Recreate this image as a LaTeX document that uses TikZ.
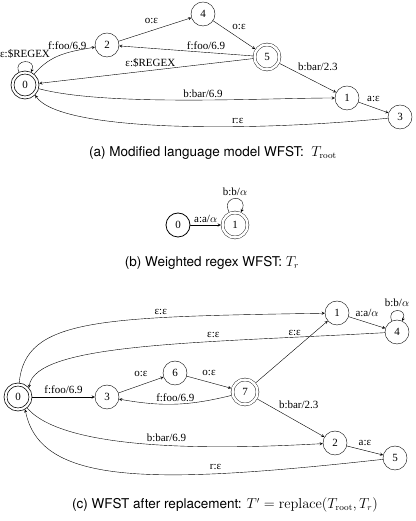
\documentclass[tikz,border=0pt]{standalone}
\usepackage[no-math]{fontspec}
\setmainfont{Liberation Serif}
\newfontfamily\capfont{TeX Gyre Heros}
\begin{document}
\begin{tikzpicture}[x=1pt, y=1pt, font=\fontsize{11}{13}\selectfont, line join=round, line cap=round, >=stealth,
  state/.style={circle, draw, minimum size=24pt, inner sep=0pt},
  final/.style={state, double, double distance=2.5pt, minimum size=25pt, outer sep=1.7pt},
  start/.style={state, line width=0.8pt},
  startfinal/.style={final, line width=0.7pt, double distance=2.2pt, outer sep=1.8pt},
  selfloop/.style={out=115, in=65, min distance=#1},
  caption/.style={font=\capfont\fontsize{13.5}{16}\selectfont}]
\useasboundingbox (0,0) rectangle (415,521);
% (a) language model
\node[startfinal] (a0) at (25,436) {0};
\foreach \k/\x/\y in {2/107/476, 4/203/507, 1/347/423, 3/400/404}
  \node[state] (a\k) at (\x,\y) {\k};
\node[final] (a5) at (267,464) {5};
\draw[->] (a0) to[selfloop=15pt] node[above]{ε:\$REGEX} (a0);
\draw[->] (a0) to[out=50,in=190] node[pos=.6, above]{f:foo/6.9} (a2);
\draw[->] (a2) -- node[pos=.45, above=3pt]{o:ε} (a4);
\draw[->] (a4) -- node[pos=.4, above right=-1pt]{o:ε} (a5);
\draw[->] (a5) -- node[pos=.35, above=-1pt]{f:foo/6.9} (a2);
\draw[->] (a5) -- node[pos=.48, above=0pt]{ε:\$REGEX} (a0);
\draw[->] (a5) -- node[pos=.3, above right=-2pt]{b:bar/2.3} (a1);
\draw[->] (a0) to[out=-15,in=180,looseness=.6] node[pos=.55, above=-1pt]{b:bar/6.9} (a1);
\draw[->] (a1) -- node[above=2pt]{a:ε} (a3);
\draw[->] (a3) .. controls (250,389) and (60,389) .. node[pos=.34, above=-1pt]{r:ε} (a0.-45);
\node[caption] (capa) at (213,368) {(a) Modified language model WFST: \ $T_{\mathrm{root}}$};
% (b) regex
\node[start] (b0) at (178,296) {0};
\node[final] (b1) at (235,296) {1};
\draw[->] (b0) -- node[above=-1pt]{a:a/$\alpha$} (b1);
\draw[->] (b1) to[selfloop=20pt] node[above=-1pt]{b:b/$\alpha$} (b1);
\node[caption] (capb) at (212,258) {(b) Weighted regex WFST: $T_r$};
% (c) after replacement
\node[startfinal] (c0) at (18,124) {0};
\foreach \k/\x/\y in {3/107/124, 6/175/148, 1/337/208, 4/397/189, 2/335/78, 5/395/63}
  \node[state] (c\k) at (\x,\y) {\k};
\node[final] (c7) at (245,129) {7};
\draw[->] (c0.85) .. controls (25,203) and (100,204) .. node[pos=.7, above=-1pt]{ε:ε} (c1);
\draw[->] (c4) .. controls (200,178) and (35,178) .. node[pos=.33, above=0pt]{ε:ε} (c0.40);
\draw[->] (c0) -- node[above]{f:foo/6.9} (c3);
\draw[->] (c3) -- node[above=5pt]{o:ε} (c6);
\draw[->] (c6) -- node[above=3pt]{o:ε} (c7);
\draw[->] (c7) to[bend left=12] node[above=-1pt]{f:foo/6.9} (c3);
\draw[->] (c7) -- node[pos=.8, left=9pt]{ε:ε} (c1);
\draw[->] (c1) -- node[above=2pt]{a:a/$\alpha$} (c4);
\draw[->] (c4) to[selfloop=15pt] node[above=1pt]{b:b/$\alpha$} (c4);
\draw[->] (c7) -- node[pos=.3, above right=-2pt]{b:bar/2.3} (c2);
\draw[->] (c0) to[out=-50,in=183,looseness=.55] node[pos=.5, above=0pt]{b:bar/6.9} (c2);
\draw[->] (c2) -- node[above=1pt]{a:ε} (c5);
\draw[->] (c5) .. controls (150,36) and (40,36) .. node[pos=.28, above=1pt]{r:ε} (c0.-60);
\node[caption] (capc) at (225,16) {(c) WFST after replacement: $T' = \mathrm{replace}(T_{\mathrm{root}}, T_r)$};
\end{tikzpicture}
\end{document}
